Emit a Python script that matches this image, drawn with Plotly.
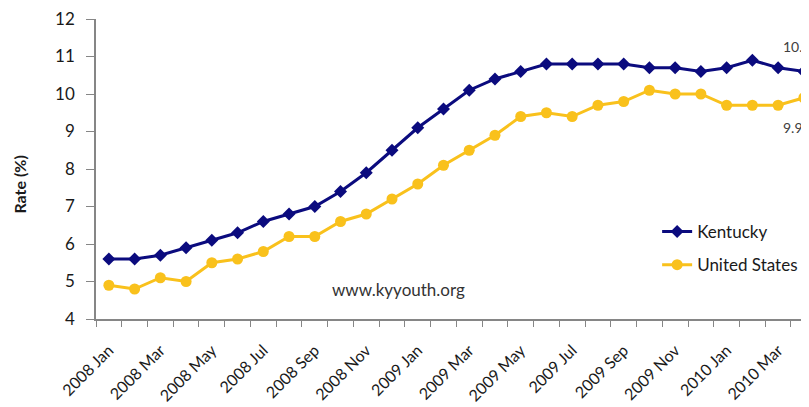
import plotly.graph_objects as go

months = ["Jan", "Feb", "Mar", "Apr", "May", "Jun", "Jul", "Aug", "Sep", "Oct", "Nov", "Dec"]
categories = [f"{y} {m}" for y in (2008, 2009) for m in months] + ["2010 Jan", "2010 Feb", "2010 Mar", "2010 Apr"]

kentucky = [5.6, 5.6, 5.7, 5.9, 6.1, 6.3, 6.6, 6.8, 7.0, 7.4, 7.9, 8.5, 9.1, 9.6,
            10.1, 10.4, 10.6, 10.8, 10.8, 10.8, 10.8, 10.7, 10.7, 10.6, 10.7, 10.9, 10.7, 10.6]
united_states = [4.9, 4.8, 5.1, 5.0, 5.5, 5.6, 5.8, 6.2, 6.2, 6.6, 6.8, 7.2, 7.6, 8.1,
                 8.5, 8.9, 9.4, 9.5, 9.4, 9.7, 9.8, 10.1, 10.0, 10.0, 9.7, 9.7, 9.7, 9.9]

y_ticks = list(range(4, 13))
x_idx = list(range(len(categories)))
label_idx = x_idx[::2]
label_text = [categories[i] for i in label_idx]

FONT = "Lato, 'Open Sans', sans-serif"
AXIS = "#868686"
TXT = "#1a1a1a"

fig = go.Figure()
fig.add_trace(go.Scatter(
    x=x_idx, y=kentucky, name="Kentucky", mode="lines+markers", legendgroup="ky",
    line=dict(color="#0B0B7E", width=3),
    marker=dict(symbol="diamond", size=10, color="#0B0B7E"),
))
fig.add_trace(go.Scatter(
    x=x_idx, y=united_states, name="United States", mode="lines+markers", legendgroup="us",
    line=dict(color="#F9C11C", width=3),
    marker=dict(symbol="circle", size=11, color="#F9C11C"),
))

fig.add_annotation(x=x_idx[-1], y=kentucky[-1], xref="x", yref="y", text=str(kentucky[-1]),
                   showarrow=False, yshift=25, xanchor="left", xshift=-23,
                   font=dict(size=14, color="#404040", family=FONT))
fig.add_annotation(x=x_idx[-1], y=united_states[-1], xref="x", yref="y", text=str(united_states[-1]),
                   showarrow=False, yshift=-30, xanchor="left", xshift=-23,
                   font=dict(size=14, color="#404040", family=FONT))
fig.add_annotation(x=0.328, y=0.097, xref="paper", yref="paper", text="www.kyyouth.org",
                   showarrow=False, xanchor="left", yanchor="middle",
                   font=dict(size=17, color="#333333", family=FONT))
fig.add_annotation(x=-0.107, y=0.447, xref="paper", yref="paper", text="<b>Rate (%)</b>",
                   showarrow=False, textangle=-90, xanchor="center", yanchor="middle",
                   font=dict(size=16, color=TXT, family=FONT))

fig.update_layout(
    width=801, height=399,
    margin=dict(l=88, r=0, t=11, b=88),
    paper_bgcolor="white", plot_bgcolor="white",
    font=dict(family=FONT, size=15, color=TXT),
    showlegend=True,
    legend=dict(x=0.787, y=0.35, xanchor="left", yanchor="top",
                font=dict(size=17, color=TXT, family=FONT),
                bgcolor="rgba(0,0,0,0)", tracegroupgap=8, itemwidth=30),
    xaxis=dict(
        range=[-0.5, 27.2], showgrid=False, zeroline=False,
        showline=True, linecolor=AXIS, linewidth=1.5,
        tickmode="array", tickvals=label_idx, ticktext=label_text,
        ticks="", tickangle=-45, tickfont=dict(size=16, color=TXT),
        ticklabelstandoff=14, ticklabeloverflow="allow",
        minor=dict(tickmode="linear", tick0=-0.5, dtick=1, ticks="outside",
                   ticklen=6, tickcolor=AXIS, tickwidth=1, showgrid=False),
    ),
    yaxis=dict(
        range=[4, 12], tickvals=y_ticks, showgrid=False, zeroline=False,
        showline=True, linecolor=AXIS, linewidth=1.5,
        ticks="outside", ticklen=8, tickcolor=AXIS,
        tickfont=dict(size=17, color=TXT), ticklabelstandoff=8,
        ticklabeloverflow="allow",
    ),
)

fig.write_html("out.html")
